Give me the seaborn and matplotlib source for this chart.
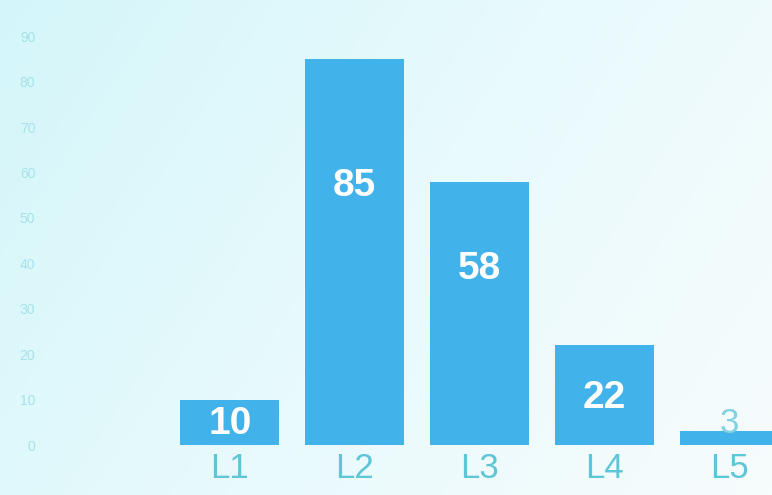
import numpy as np
import pandas as pd
import matplotlib
matplotlib.use("Agg")
import matplotlib.pyplot as plt
import seaborn as sns
from matplotlib.colors import LinearSegmentedColormap

categories = ["L1", "L2", "L3", "L4", "L5"]
values = [10, 85, 58, 22, 3]
yticks = [0, 10, 20, 30, 40, 50, 60, 70, 80, 90]

sns.set_theme(style="white")
plt.rcParams['font.family'] = ['Liberation Sans Narrow', 'Liberation Sans', 'DejaVu Sans']

fig = plt.figure(figsize=(7.72, 4.95), dpi=100)

# background gradient (photo of screen look)
bg = fig.add_axes([0, 0, 1, 1], zorder=0)
xx = np.linspace(0, 1, 300)
yy = np.linspace(0, 1, 200)
X, Y = np.meshgrid(xx, yy)
G = np.clip(0.6 * X + 0.25 * Y, 0, 1)
cmap = LinearSegmentedColormap.from_list("bgc", ["#d4f6fa", "#e8fafc", "#f7fcfc"])
bg.imshow(G, cmap=cmap, aspect="auto", extent=[0, 1, 0, 1], origin="upper")
bg.set_axis_off()

ax = fig.add_axes([0.071, 0.101, 0.929, 0.899], zorder=1)
ax.set_facecolor("none")

df = pd.DataFrame({"cat": categories, "val": values})
sns.barplot(data=df, x="cat", y="val", color="#41b3ea", saturation=1,
            width=0.79, linewidth=0, ax=ax)

ax.set_xlim(-1.4, 4.34)
ax.set_ylim(0, 98)
ax.set_yticks(yticks)
ax.set_yticklabels([str(t) for t in yticks], color="#a6e2ea", fontsize=10)
ax.tick_params(axis="y", length=0, pad=14)
ax.tick_params(axis="x", length=0, pad=5)
for lab in ax.get_xticklabels():
    lab.set_color("#5ec6d6")
    lab.set_fontsize(25)
ax.set_xlabel("")
ax.set_ylabel("")
for s in ax.spines.values():
    s.set_visible(False)

for i, v in enumerate(values):
    if v >= 30:
        ty = v * 0.67
        col, fw, fs = "white", "bold", 28
    elif v >= 5:
        ty = v * 0.47
        col, fw, fs = "white", "bold", 28
    else:
        ty = v + 1.8
        col, fw, fs = "#7fd2e2", "normal", 25
    ax.text(i, ty, str(v), ha="center", va="center", color=col,
            fontsize=fs, fontweight=fw)

fig.savefig("out.png", dpi=100)
